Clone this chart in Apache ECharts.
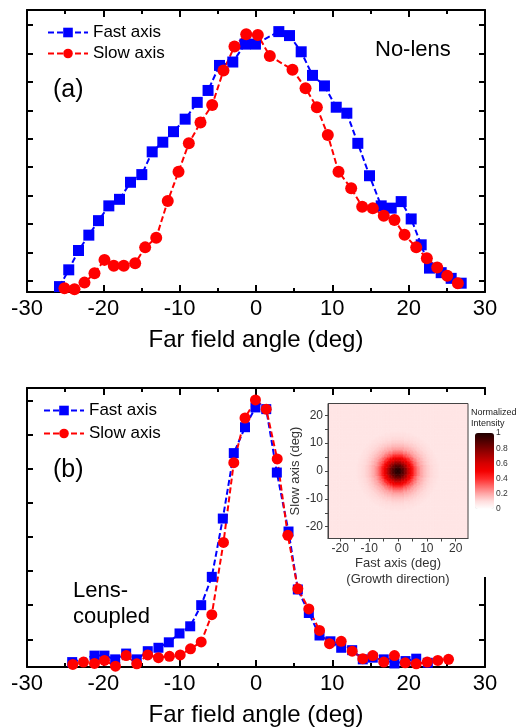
<!DOCTYPE html>
<html>
<head>
<meta charset="utf-8">
<script src="https://cdn.jsdelivr.net/npm/echarts@6/dist/echarts.min.js"></script>
<style>
  html, body { margin: 0; padding: 0; background: #fff; }
  #chart { width: 516px; height: 728px; }
</style>
</head>
<body>
<div id="chart"></div>
<script>
// ---- Panel (a): no lens ----
const angleFastA = [-25.74, -24.53, -23.25, -21.90, -20.63, -19.28, -17.88, -16.44, -14.96, -13.60,
  -12.21, -10.81, -9.28, -7.70, -6.28, -4.78, -3.04, -1.44, -0.07, 2.99, 4.39, 5.92, 7.40, 8.97,
  10.51, 11.90, 13.34, 14.87, 16.40, 17.71, 19.02, 20.33, 21.64, 22.73, 24.26, 25.57, 26.88];
const fastA = [-0.020, 0.039, 0.107, 0.161, 0.212, 0.264, 0.287, 0.347, 0.374, 0.454,
  0.488, 0.525, 0.569, 0.628, 0.670, 0.758, 0.770, 0.833, 0.833, 0.877, 0.863, 0.806, 0.723, 0.686,
  0.611, 0.590, 0.484, 0.370, 0.264, 0.256, 0.279, 0.218, 0.127, 0.045, 0.029, 0.009, -0.008];

const angleSlowA = [-25.09, -23.78, -22.47, -21.16, -19.85, -18.63, -17.32, -15.83, -14.52, -13.07,
  -11.56, -10.15, -8.80, -7.27, -5.74, -4.26, -2.82, -1.28, 0.24, 1.81, 4.78, 6.49, 7.97, 9.41,
  10.81, 12.47, 13.91, 15.30, 16.74, 18.14, 19.46, 20.99, 22.38, 23.74, 25.05, 26.44];
const slowA = [-0.026, -0.029, -0.006, 0.027, 0.074, 0.053, 0.053, 0.062, 0.118, 0.152,
  0.281, 0.384, 0.484, 0.557, 0.619, 0.740, 0.825, 0.868, 0.865, 0.791, 0.743, 0.678, 0.611, 0.513,
  0.384, 0.326, 0.261, 0.256, 0.229, 0.214, 0.162, 0.118, 0.080, 0.047, 0.018, -0.008];

// ---- Panel (b): lens-coupled ----
const angleFastB = [-24.08, -21.16, -19.85, -18.45, -17.01, -15.62, -14.18, -12.78, -11.42, -10.02,
  -8.62, -7.18, -5.79, -4.35, -2.91, -1.44, -0.07, 1.34, 2.73, 4.26, 5.48, 6.92, 8.32, 9.75,
  11.16, 12.60, 13.99, 15.30, 16.74, 18.14, 19.59, 20.99, 22.51];
const fastB = [-0.067, -0.048, -0.048, -0.059, -0.042, -0.059, -0.035, -0.025, -0.009, 0.017,
  0.038, 0.100, 0.183, 0.354, 0.546, 0.622, 0.680, 0.675, 0.489, 0.316, 0.146, 0.077, 0.011, -0.006,
  -0.025, -0.032, -0.059, -0.054, -0.059, -0.071, -0.064, -0.057, -0.069];

const angleSlowB = [-24.00, -22.60, -21.16, -19.85, -18.41, -17.01, -15.62, -14.18, -12.78, -11.34,
  -9.93, -8.58, -7.18, -5.79, -4.26, -2.91, -1.44, -0.07, 1.34, 2.78, 4.17, 5.48, 6.92, 8.32,
  9.63, 11.16, 12.60, 13.99, 15.30, 16.74, 18.14, 19.55, 20.99, 22.43, 23.82, 25.22];
const slowB = [-0.074, -0.067, -0.071, -0.062, -0.079, -0.048, -0.072, -0.046, -0.054, -0.050,
  -0.046, -0.028, -0.008, 0.072, 0.284, 0.518, 0.649, 0.702, 0.675, 0.529, 0.305, 0.148, 0.089, 0.026,
  -0.013, -0.006, -0.035, -0.057, -0.048, -0.067, -0.048, -0.069, -0.072, -0.067, -0.062, -0.059];

// Unlabelled intensity ticks of the two profile panels
const yTicksA = [0, 0.1, 0.2, 0.3, 0.4, 0.5, 0.6, 0.7, 0.8, 0.9];
const yTicksB = [0, 0.1, 0.2, 0.3, 0.4, 0.5, 0.6, 0.7];

// ---- Inset: 2D far-field map (radial intensity profile of the spot) ----
const beamRadius = [0, 0.5, 1, 1.5, 2, 2.5, 3, 3.5, 4, 4.5, 5, 5.5, 6, 6.5, 7, 7.5, 8, 8.5, 9, 9.5,
  10, 10.5, 11, 11.5, 12, 12.5, 13, 13.5, 14];
const beamProfile = [1.00, 0.98, 0.95, 0.91, 0.86, 0.80, 0.73, 0.66, 0.59, 0.52, 0.46, 0.40, 0.35, 0.31,
  0.27, 0.24, 0.21, 0.19, 0.17, 0.155, 0.14, 0.13, 0.12, 0.11, 0.105, 0.10, 0.095, 0.09, 0.085];
const beamBackground = 0.08;
const insetLabels = [-20, -10, 0, 10, 20];
const insetTicks = [-20, -15, -10, -5, 0, 5, 10, 15, 20];
const colorbarLabels = ['1', '0.8', '0.6', '0.4', '0.2', '0'];

const FONT = '"Liberation Sans", Arial, sans-serif';
const BLUE = '#0000ff';
const RED = '#ff0000';

function pairs(xs, ys) { return xs.map((x, i) => [x, ys[i]]); }

// heatmap cells on a 0.5 deg grid
const cellStep = 0.5;
const cells = [];
for (let v = -24; v <= 24.0001; v += cellStep) cells.push(+v.toFixed(1));
const step = beamRadius[1] - beamRadius[0];
const heat = [];
cells.forEach((cx, i) => {
  cells.forEach((cy, j) => {
    const r = Math.hypot(cx, cy);
    const k = Math.round(r / step);
    const val = k < beamProfile.length ? Math.max(beamProfile[k], beamBackground) : beamBackground;
    heat.push([i, j, val]);
  });
});

function mainX(gridIndex, position, withLabels) {
  return {
    type: 'value', gridIndex, position, min: -30, max: 30, interval: 10,
    axisLine: { show: true, onZero: false, lineStyle: { color: '#000', width: 2 } },
    axisTick: { show: true, inside: true, length: 7, lineStyle: { color: '#000', width: 2 } },
    minorTick: { show: true, splitNumber: 2, length: 4, lineStyle: { color: '#000', width: 2 } },
    axisLabel: { show: withLabels, color: '#000', fontSize: 22, fontFamily: FONT, margin: 6,
      showMinLabel: true, showMaxLabel: true },
    splitLine: { show: false }, minorSplitLine: { show: false },
    name: withLabels ? 'Far field angle (deg)' : '',
    nameLocation: 'middle', nameGap: 36,
    nameTextStyle: { color: '#000', fontSize: 24, fontFamily: FONT }
  };
}

function mainY(gridIndex, position, min, max, ticks) {
  return {
    type: 'value', gridIndex, position, min, max,
    axisLine: { show: true, onZero: false, lineStyle: { color: '#000', width: 2 } },
    axisTick: { show: true, inside: true, length: 6, customValues: ticks, lineStyle: { color: '#000', width: 2 } },
    axisLabel: { show: false },
    splitLine: { show: false }
  };
}

function lineSeries(name, xi, yi, data, symbol, size, color) {
  return {
    type: 'line', name, xAxisIndex: xi, yAxisIndex: yi, data,
    symbol, symbolSize: size, showSymbol: true,
    itemStyle: { color },
    lineStyle: { color, width: 2, type: [6, 3] },
    emphasis: { disabled: true },
    z: 2
  };
}

const intensityColors = ['#ffffff', '#ffdede', '#ffa8a8', '#ff6a6a', '#ff2a2a', '#f40000',
  '#d60000', '#aa0000', '#7c0000', '#4c0000', '#200000'];

const cbTop = 433, cbHeight = 76, cbLeft = 475, cbWidth = 19;

const graphicEls = [
  { type: 'rect', shape: { x: 297, y: 395, width: 219, height: 182 }, style: { fill: '#fff' }, z: 5, silent: true },
  { type: 'text', x: 53, y: 90, style: { text: '(a)', font: '25px ' + FONT, fill: '#000', verticalAlign: 'middle' }, z: 6 },
  { type: 'text', x: 375, y: 50, style: { text: 'No-lens', font: '22px ' + FONT, fill: '#000', verticalAlign: 'middle' }, z: 6 },
  { type: 'text', x: 53, y: 470, style: { text: '(b)', font: '25px ' + FONT, fill: '#000', verticalAlign: 'middle' }, z: 6 },
  { type: 'text', x: 73, y: 591, style: { text: 'Lens-', font: '22px ' + FONT, fill: '#000', verticalAlign: 'middle' }, z: 6 },
  { type: 'text', x: 73, y: 617, style: { text: 'coupled', font: '22px ' + FONT, fill: '#000', verticalAlign: 'middle' }, z: 6 },
  { type: 'text', x: 471, y: 412.5, style: { text: 'Normalized', font: '9px ' + FONT, fill: '#222', verticalAlign: 'middle' }, z: 12 },
  { type: 'text', x: 471, y: 423.5, style: { text: 'Intensity', font: '9px ' + FONT, fill: '#222', verticalAlign: 'middle' }, z: 12 }
];
colorbarLabels.forEach((t, i) => {
  graphicEls.push({
    type: 'text', x: cbLeft + cbWidth + 2, y: cbTop + i * cbHeight / (colorbarLabels.length - 1),
    style: { text: t, font: '8.5px ' + FONT, fill: '#333', verticalAlign: 'middle' }, z: 12
  });
});

const option = {
  animation: false,
  backgroundColor: '#fff',
  textStyle: { fontFamily: FONT },
  grid: [
    { left: 27, top: 10, width: 458, height: 282 },
    { left: 27, top: 388, width: 458, height: 279.5 },
    { left: 328, top: 403.5, width: 140, height: 135, show: true, borderColor: '#444', borderWidth: 1, z: 11 }
  ],
  xAxis: [
    mainX(0, 'bottom', true),
    mainX(0, 'top', false),
    mainX(1, 'bottom', true),
    mainX(1, 'top', false),
    { type: 'category', gridIndex: 2, data: cells, show: false },
    {
      type: 'value', gridIndex: 2, position: 'bottom', min: -24.25, max: 24.25, z: 11,
      axisLine: { show: true, onZero: false, lineStyle: { color: '#444', width: 1 } },
      axisTick: { show: true, inside: false, length: 3, customValues: insetTicks, lineStyle: { color: '#444' } },
      axisLabel: { customValues: insetLabels, color: '#333', fontSize: 12, fontFamily: FONT, margin: 4 },
      splitLine: { show: false },
      name: 'Fast axis (deg)\n(Growth direction)', nameLocation: 'middle', nameGap: 13,
      nameTextStyle: { color: '#333', fontSize: 13, lineHeight: 16, fontFamily: FONT }
    }
  ],
  yAxis: [
    mainY(0, 'left', -0.039, 0.953, yTicksA),
    mainY(0, 'right', -0.039, 0.953, yTicksA),
    mainY(1, 'left', -0.0814, 0.737, yTicksB),
    mainY(1, 'right', -0.0814, 0.737, yTicksB),
    { type: 'category', gridIndex: 2, data: cells, show: false },
    {
      type: 'value', gridIndex: 2, position: 'left', min: -24.25, max: 24.25, z: 11,
      axisLine: { show: true, onZero: false, lineStyle: { color: '#444', width: 1 } },
      axisTick: { show: true, inside: false, length: 3, customValues: insetTicks, lineStyle: { color: '#444' } },
      axisLabel: { customValues: insetLabels, color: '#333', fontSize: 12, fontFamily: FONT, margin: 5 },
      splitLine: { show: false },
      name: 'Slow axis (deg)', nameLocation: 'middle', nameGap: 17,
      nameTextStyle: { color: '#333', fontSize: 13, fontFamily: FONT }
    }
  ],
  legend: [
    {
      data: ['Fast axis', 'Slow axis'], orient: 'vertical', left: 42, top: 19,
      itemWidth: 40, itemHeight: 12, itemGap: 4, selectedMode: false,
      textStyle: { color: '#000', fontSize: 17, fontFamily: FONT }
    },
    {
      data: ['Fast axis', 'Slow axis'], orient: 'vertical', left: 38, top: 397,
      itemWidth: 40, itemHeight: 12, itemGap: 6, selectedMode: false,
      textStyle: { color: '#000', fontSize: 17, fontFamily: FONT }
    }
  ],
  visualMap: {
    type: 'continuous', min: 0, max: 1, seriesIndex: 4, calculable: false, hoverLink: false,
    left: cbLeft, top: cbTop, itemWidth: cbWidth, itemHeight: cbHeight, padding: 0,
    inRange: { color: intensityColors }, z: 12
  },
  series: [
    lineSeries('Fast axis', 0, 0, pairs(angleFastA, fastA), 'rect', 11, BLUE),
    lineSeries('Slow axis', 0, 0, pairs(angleSlowA, slowA), 'circle', 12, RED),
    lineSeries('Fast axis', 2, 2, pairs(angleFastB, fastB), 'rect', 10, BLUE),
    lineSeries('Slow axis', 2, 2, pairs(angleSlowB, slowB), 'circle', 11, RED),
    {
      type: 'heatmap', xAxisIndex: 4, yAxisIndex: 4, data: heat,
      progressive: 0, z: 10, emphasis: { disabled: true }, silent: true
    }
  ],
  graphic: { elements: graphicEls }
};

const chart = echarts.init(document.getElementById('chart'), null, { renderer: 'canvas' });
chart.setOption(option);
</script>
</body>
</html>
